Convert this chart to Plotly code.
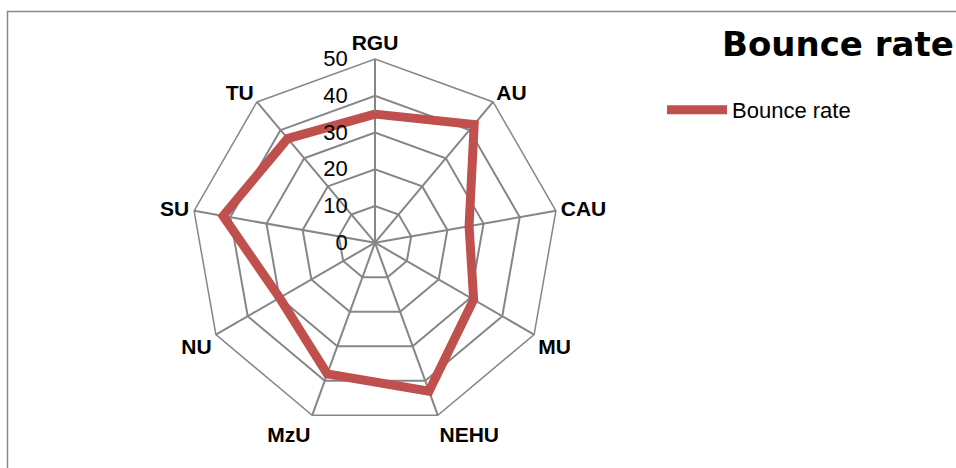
import plotly.graph_objects as go

categories = ["RGU", "AU", "CAU", "MU", "NEHU", "MzU", "NU", "SU", "TU"]
bounce_rate = [35, 42, 26, 31, 43, 38, 30, 42, 37]
radial_ticks = [0, 10, 20, 30, 40, 50]
series_name = "Bounce rate"
chart_title = "Bounce rate"

W, H = 956, 468
cx, cy, R = 375, 242.7, 183.7

theta = categories + categories[:1]
r = bounce_rate + bounce_rate[:1]

fig = go.Figure()
fig.add_trace(go.Scatterpolar(
    r=r, theta=theta, mode="lines", name=series_name,
    line=dict(color="#C0504D", width=9, shape="linear"),
    showlegend=True,
))

grid = "#868686"
fig.update_layout(
    width=W, height=H,
    margin=dict(l=0, r=0, t=0, b=0),
    paper_bgcolor="white",
    font=dict(family="Liberation Sans", color="black"),
    title=dict(text=chart_title, x=722 / W, xanchor="left", xref="paper",
               y=1 - 44 / H, yanchor="middle", yref="paper",
               font=dict(family="DejaVu Sans", size=34, weight="bold", color="black")),
    polar=dict(
        domain=dict(x=[(cx - R) / W, (cx + R) / W], y=[(H - cy - R) / H, (H - cy + R) / H]),
        bgcolor="white",
        gridshape="linear",
        angularaxis=dict(
            direction="clockwise", rotation=90, type="category",
            categoryarray=categories, categoryorder="array",
            showline=True, linecolor=grid, linewidth=1.5,
            gridcolor=grid, gridwidth=1.5,
            ticks="", tickfont=dict(family="Liberation Sans", size=21, weight="bold", color="black"),
        ),
        radialaxis=dict(
            range=[0, 50], tickvals=radial_ticks, angle=90, tickangle=90,
            side="counterclockwise",
            showline=False, gridcolor=grid, gridwidth=1.5,
            ticks="outside", ticklen=19, tickcolor="rgba(0,0,0,0)",
            tickfont=dict(family="Liberation Sans", size=22, color="black"),
        ),
    ),
    showlegend=True,
    legend=dict(x=662 / W, xanchor="left", y=1 - 110 / H, yanchor="middle",
                font=dict(family="Liberation Sans", size=22, color="black"),
                itemwidth=60, bgcolor="rgba(0,0,0,0)"),
    shapes=[dict(type="rect", xref="paper", yref="paper",
                 x0=7.5 / W, x1=1.2, y0=-0.2, y1=1 - 11.5 / H,
                 line=dict(color=grid, width=1.5), layer="below")],
)

fig.write_html("out.html", config={"displayModeBar": False},
               post_script="document.body.style.margin='0';document.body.style.overflow='hidden';")
